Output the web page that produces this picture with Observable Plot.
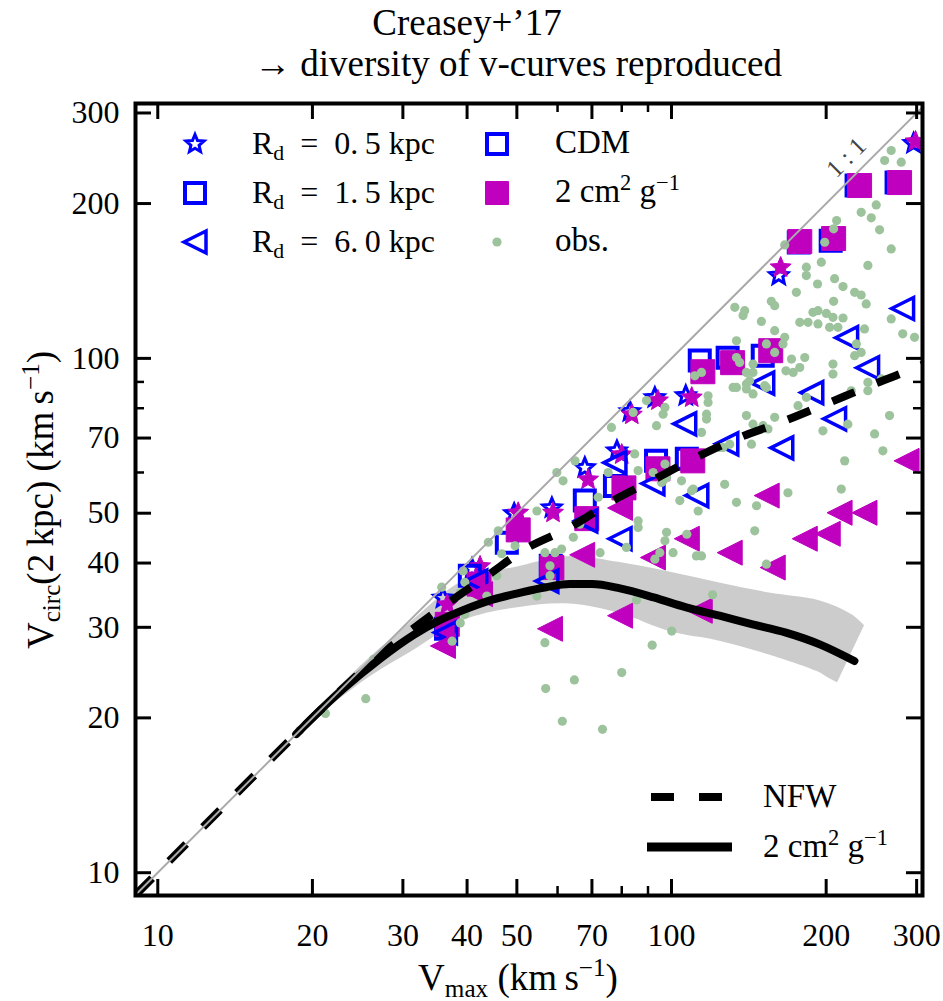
<!DOCTYPE html>
<html>
<head>
<meta charset="utf-8">
<script src="https://cdn.jsdelivr.net/npm/d3@7"></script>
<script src="https://cdn.jsdelivr.net/npm/@observablehq/plot@0.6"></script>
<style>
  body { margin: 0; background: #fff; }
  #fig { position: relative; width: 943px; height: 1001px; font-family: "Liberation Serif", serif; color: #000; overflow: hidden; }
  #chart { position: absolute; left: 0; top: 85px; }
  .lbl { position: absolute; white-space: nowrap; }
  .lbl sub, .lbl sup { line-height: 0; font-size: 68%; }
  .lbl sub { vertical-align: -0.28em; }
  .lbl sup { vertical-align: 0.55em; }
  .sym { position: absolute; overflow: visible; }
</style>
</head>
<body>
<div id="fig"><div id="chart"></div></div>
<script>
// ---------- data (km/s) ----------
// compact disc, R_d = 0.5 kpc
const starCdmVmax  = [35.9, 40.9, 49.4, 58.5, 67.8, 78.3, 83.0, 92.8, 106.6, 161.7, 295.9];
const starCdmVcirc = [34.2, 39.0, 49.9, 51.2, 61.3, 66.1, 78.8, 83.9, 84.6, 144.9, 261.7];
const starSidmVmax  = [36.6, 42.4, 50.3, 58.8, 68.8, 80.0, 83.7, 94.1, 109.5, 163.1, 298.5];
const starSidmVcirc = [33.2, 39.4, 50.1, 50.1, 58.1, 65.0, 77.7, 82.8, 83.9, 150.2, 264.0];
// R_d = 1.5 kpc
const squareCdmVmax  = [36.4, 40.5, 47.8, 58.2, 67.8, 77.6, 93.3, 107.1, 113.5, 128.6, 150.5, 176.9, 204.1, 229.2, 274.2];
const squareCdmVcirc = [29.8, 37.8, 43.8, 39.5, 52.9, 56.5, 63.2, 63.8, 99.0, 100.3, 101.2, 167.9, 169.4, 216.8, 219.7];
const squareSidmVmax  = [36.6, 42.2, 50.3, 58.5, 68.4, 80.8, 94.1, 110.0, 115.1, 131.5, 156.0, 177.7, 206.8, 232.3, 277.9];
const squareSidmVcirc = [30.4, 36.4, 46.4, 39.2, 48.8, 56.0, 61.0, 63.2, 94.2, 98.1, 103.5, 168.7, 171.0, 216.8, 219.7];
// extended disc, R_d = 6.0 kpc
const triCdmVmax  = [36.3, 41.6, 57.2, 68.1, 77.6, 79.4, 92.0, 106.1, 112.0, 128.1, 150.5, 163.9, 187.5, 207.7, 219.2, 240.8, 281.7];
const triCdmVcirc = [29.3, 36.9, 36.9, 48.3, 62.7, 44.6, 57.1, 74.6, 54.1, 68.2, 89.5, 67.0, 85.8, 76.3, 109.7, 95.9, 125.0];
const triSidmVmax  = [35.9, 42.4, 58.0, 67.0, 79.4, 79.4, 92.0, 107.1, 113.5, 129.8, 153.2, 157.4, 181.7, 201.4, 212.4, 237.5, 286.8];
const triSidmVcirc = [27.6, 34.8, 29.8, 41.5, 51.2, 31.6, 41.0, 44.6, 32.3, 41.9, 54.1, 39.2, 44.6, 45.6, 50.1, 50.1, 63.2];

// observed galaxies
const obsVmax = [
  267.7, 259.9, 280.0, 250.3, 234.0, 244.8, 254.1, 209.6, 206.8, 267.7, 195.7, 198.7, 183.0, 183.0, 241.1,
  192.4, 207.7, 215.7, 175.0, 227.2, 234.0, 239.3, 206.8, 156.4, 158.8, 132.8, 138.8, 137.8, 149.6, 188.5,
  192.8, 200.2, 206.2, 215.7, 177.7, 184.4, 192.8, 203.1, 210.8, 237.5, 267.7, 281.9, 297.2, 158.8, 166.1,
  164.8, 133.8, 153.0, 166.1, 229.0, 227.2, 234.0, 256.1, 241.1, 241.1, 223.8, 183.0, 176.3, 197.1, 220.4,
  248.5, 265.7, 257.9, 217.3, 214.0, 168.5, 145.2, 153.0, 146.4, 133.8, 126.9, 112.7, 109.4, 104.6, 103.8,
  97.1, 96.3, 97.8, 97.1, 94.9, 92.8, 100.7, 114.4, 111.8, 107.1, 86.1, 86.1, 81.7, 72.6, 64.4,
  61.1, 59.3, 56.7, 58.0, 58.0, 66.3, 72.0, 75.3, 61.5, 59.8, 54.7, 64.9, 76.4, 93.5, 89.4,
  97.1, 96.3, 84.2, 117.8, 117.8, 117.0, 114.4, 117.0, 131.8, 139.9, 144.1, 141.9, 153.0, 150.7, 144.1,
  154.1, 158.8, 139.9, 143.1, 126.0, 129.8, 84.8, 92.1, 95.6, 110.2, 133.8, 114.4, 111.0, 139.9, 144.1,
  139.9, 133.8, 151.8, 158.8, 135.7, 144.1, 171.2, 181.7, 177.7, 167.0, 206.2, 206.2, 124.1, 97.8, 86.1,
  54.7, 46.0, 44.0, 49.6, 46.7, 39.3, 45.7, 39.6, 38.8, 35.7, 43.7, 39.6, 38.8, 37.4, 56.7,
  25.4, 26.3, 18.9, 21.2, 85.5, 120.2, 100.1, 91.7, 80.0, 64.7, 56.9, 61.3, 73.4, 172.5
];
const obsVcirc = [
  253.6, 242.5, 240.7, 198.8, 192.3, 187.6, 177.8, 185.3, 178.6, 163.2, 153.8, 168.2, 150.4, 144.9, 151.6,
  139.5, 142.9, 137.9, 134.4, 134.4, 132.8, 127.6, 129.1, 129.1, 126.6, 125.7, 123.8, 121.1, 118.0, 122.9,
  123.8, 122.3, 120.2, 119.8, 117.5, 117.5, 116.7, 114.9, 114.9, 114.1, 119.3, 111.6, 109.9, 113.2, 109.9,
  106.7, 108.2, 106.7, 166.2, 106.7, 101.2, 102.7, 91.2, 89.8, 86.5, 86.5, 84.0, 80.9, 72.3, 74.5,
  71.3, 77.4, 66.1, 63.2, 55.7, 54.8, 46.2, 39.8, 51.7, 52.5, 56.9, 50.5, 55.3, 57.8, 52.9,
  62.3, 57.8, 45.9, 44.2, 41.9, 40.7, 41.9, 41.3, 41.3, 45.5, 48.3, 46.9, 42.9, 41.9, 44.9,
  42.6, 41.9, 41.9, 39.5, 37.8, 47.6, 53.7, 60.0, 57.8, 60.0, 50.5, 63.2, 73.4, 74.0, 82.8,
  80.3, 77.9, 78.5, 84.6, 82.1, 77.9, 71.8, 76.2, 87.8, 87.2, 85.3, 90.5, 87.8, 74.0, 74.5,
  72.9, 76.8, 77.4, 68.1, 67.1, 68.1, 65.2, 60.0, 57.4, 55.7, 100.4, 93.9, 92.5, 93.9, 97.5,
  89.2, 87.8, 88.5, 102.7, 98.2, 93.9, 99.7, 100.4, 96.0, 94.6, 97.5, 93.2, 67.1, 58.7, 60.5,
  34.5, 46.2, 43.9, 43.2, 41.7, 38.6, 37.8, 36.7, 35.0, 35.9, 34.5, 31.8, 30.6, 28.2, 28.0,
  21.8, 26.0, 18.9, 20.4, 33.9, 34.7, 29.5, 27.7, 24.5, 23.7, 22.8, 19.7, 19.0, 93.9
];

// NFW expectation
const nfwVmax  = [9.05, 20, 25, 31, 36.5, 43.8, 52.6, 63.4, 77, 91.4, 111.8, 135.8, 166.1, 203.2, 248.5, 300, 310];
const nfwVcirc = [9.05, 20, 24.7, 29.5, 33.3, 37.8, 42.9, 46.9, 52.9, 57.8, 64.2, 70.2, 75.6, 82.1, 89.2, 96.0, 97.5];

// SIDM 2 cm^2/g median and its scatter band
const sidmVmax  = [18.6, 20, 23, 27, 31.5, 35, 39.3, 45, 50.6, 57, 63.4, 70, 79.4, 92.3, 106.8, 124, 143.8, 167, 194.3, 227];
const sidmVcirc = [18.6, 20, 22.8, 26.0, 29.0, 30.8, 32.4, 34.0, 35.0, 35.9, 36.4, 36.4, 35.7, 34.3, 32.8, 31.6, 30.4, 29.3, 27.8, 25.8];
const bandLowVmax   = [18.8, 22, 26, 31, 39.3, 50.6, 63.4, 79.4, 99.5, 124, 155, 194, 202, 210.5];
const bandLowVcirc  = [18.7, 21.3, 24.1, 26.8, 30.9, 32.8, 33.3, 31.9, 29.4, 28.2, 26.5, 24.5, 23.9, 23.4];
const bandHighVmax  = [18.8, 22, 26, 31, 39.3, 50.6, 63.4, 79.4, 99.5, 124, 155, 194, 225, 237.5];
const bandHighVcirc = [18.9, 22.4, 26.3, 30.6, 36.9, 39.4, 41.2, 40.1, 38.4, 36.6, 35.0, 33.8, 31.7, 30.2];

const majorTicks = [10, 20, 30, 40, 50, 70, 100, 200, 300];
const minorTicks = [60, 80, 90];
const identityLine = [9, 320];
const oneToOneLabel = [{at: 232, text: "1 : 1"}];

// ---------- layout ----------
const W = 943, H = 916, mT = 18, mR = 21, mB = 106, mL = 135;
const plotW = W - mL - mR, plotH = H - mT - mB;
const blue = "#0000ff", magenta = "#bf00bf", obsColor = "#9dc39d", bandColor = "#cccccc";
const serif = "Liberation Serif, serif";

const rows = (xs, ys) => xs.map((v, i) => ({vmax: v, vcirc: ys[i]}));
const bandRows = bandLowVmax.map((v, i) => ({
  x1: v, y1: bandLowVcirc[i], x2: bandHighVmax[i], y2: bandHighVcirc[i]
}));

// marker shapes (size = pi r^2, as Plot passes it)
const radius = size => Math.sqrt(size / Math.PI);
const starSymbol = {draw(ctx, size) {
  const r = radius(size);
  for (let i = 0; i < 10; i++) {
    const a = -Math.PI / 2 + i * Math.PI / 5, rr = i % 2 ? r * 0.45 : r;
    const px = rr * Math.cos(a), py = rr * Math.sin(a);
    if (i) ctx.lineTo(px, py); else ctx.moveTo(px, py);
  }
  ctx.closePath();
}};
const squareSymbol = {draw(ctx, size) {
  const r = radius(size);
  ctx.moveTo(-r, -r); ctx.lineTo(r, -r); ctx.lineTo(r, r); ctx.lineTo(-r, r); ctx.closePath();
}};
const leftTriangleSymbol = {draw(ctx, size) {
  const r = radius(size);
  ctx.moveTo(-r, 0); ctx.lineTo(r, -r); ctx.lineTo(r, r); ctx.closePath();
}};

const xy = {x: "vmax", y: "vcirc", clip: true};

const chart = Plot.plot({
  width: W, height: H,
  marginTop: mT, marginRight: mR, marginBottom: mB, marginLeft: mL,
  style: {fontFamily: serif, fontSize: "32px", background: "transparent", overflow: "visible"},
  x: {type: "log", domain: [9.05, 308]},
  y: {type: "log", domain: [9.03, 313]},
  marks: [
    Plot.area(bandRows, {x1: "x1", y1: "y1", x2: "x2", y2: "y2", fill: bandColor, curve: "catmull-rom", clip: true}),

    Plot.dot(rows(starCdmVmax, starCdmVcirc), {...xy, symbol: starSymbol, r: 9.5, fill: "none", stroke: blue, strokeWidth: 3, strokeLinejoin: "miter"}),
    Plot.dot(rows(starSidmVmax, starSidmVcirc), {...xy, symbol: starSymbol, r: 11, fill: magenta, stroke: magenta, strokeWidth: 1}),
    Plot.dot(rows(squareCdmVmax, squareCdmVcirc), {...xy, symbol: squareSymbol, r: 10, fill: "none", stroke: blue, strokeWidth: 4, strokeLinejoin: "miter"}),
    Plot.dot(rows(squareSidmVmax, squareSidmVcirc), {...xy, symbol: squareSymbol, r: 12, fill: magenta, stroke: magenta, strokeWidth: 1}),
    Plot.dot(rows(triCdmVmax, triCdmVcirc), {...xy, symbol: leftTriangleSymbol, r: 11, fill: "none", stroke: blue, strokeWidth: 3.5, strokeLinejoin: "miter"}),
    Plot.dot(rows(triSidmVmax, triSidmVcirc), {...xy, symbol: leftTriangleSymbol, r: 12.5, fill: magenta, stroke: magenta, strokeWidth: 1}),

    Plot.dot(rows(obsVmax, obsVcirc), {...xy, r: 4.6, fill: obsColor}),

    Plot.line(rows(nfwVmax, nfwVcirc), {...xy, stroke: "black", strokeWidth: 8, strokeDasharray: "24,24", strokeLinecap: "butt", curve: "catmull-rom"}),
    Plot.line(rows(sidmVmax, sidmVcirc), {...xy, stroke: "black", strokeWidth: 8, curve: "monotone-x"}),

    Plot.line(identityLine, {x: d => d, y: d => d, stroke: "#aaaaaa", strokeWidth: 2, clip: true}),
    Plot.text(oneToOneLabel, {x: "at", y: "at", text: "text", rotate: -45, dx: -13, dy: -13, fill: "#444", fontSize: 25, fontFamily: serif}),

    Plot.frame({stroke: "black", strokeWidth: 4}),

    // inward ticks on all four sides
    Plot.tickX(majorTicks, {x: d => d, stroke: "black", strokeWidth: 3, insetTop: plotH - 16}),
    Plot.tickX(majorTicks, {x: d => d, stroke: "black", strokeWidth: 3, insetBottom: plotH - 16}),
    Plot.tickX(minorTicks, {x: d => d, stroke: "black", strokeWidth: 2.5, insetTop: plotH - 9}),
    Plot.tickX(minorTicks, {x: d => d, stroke: "black", strokeWidth: 2.5, insetBottom: plotH - 9}),
    Plot.tickY(majorTicks, {y: d => d, stroke: "black", strokeWidth: 3, insetRight: plotW - 16}),
    Plot.tickY(majorTicks, {y: d => d, stroke: "black", strokeWidth: 3, insetLeft: plotW - 16}),
    Plot.tickY(minorTicks, {y: d => d, stroke: "black", strokeWidth: 2.5, insetRight: plotW - 9}),
    Plot.tickY(minorTicks, {y: d => d, stroke: "black", strokeWidth: 2.5, insetLeft: plotW - 9}),

    Plot.axisX({ticks: majorTicks, tickFormat: d => String(d), tickSize: 0, tickPadding: 28, label: null, fontSize: 32}),
    Plot.axisY({ticks: majorTicks, tickFormat: d => String(d), tickSize: 0, tickPadding: 16, label: null, fontSize: 32})
  ]
});
document.getElementById("chart").appendChild(chart);

// ---------- titles, axis labels and legends ----------
const fig = document.getElementById("fig");
function label(html, x, baseline, size, anchor = "start") {
  const d = document.createElement("div");
  d.className = "lbl";
  d.innerHTML = html;
  d.style.fontSize = size + "px";
  d.style.lineHeight = size + "px";
  d.style.left = x + "px";
  d.style.top = (baseline - 0.8375 * size) + "px";
  if (anchor === "middle") d.style.transform = "translateX(-50%)";
  if (anchor === "end") d.style.transform = "translateX(-100%)";
  fig.appendChild(d);
  return d;
}
function symbol(svgInner, cx, cy) {
  const ns = "http://www.w3.org/2000/svg";
  const s = document.createElementNS(ns, "svg");
  s.setAttribute("class", "sym");
  s.setAttribute("width", 40); s.setAttribute("height", 40);
  s.setAttribute("viewBox", "-20 -20 40 40");
  s.style.left = (cx - 20) + "px"; s.style.top = (cy - 20) + "px";
  s.innerHTML = svgInner;
  fig.appendChild(s);
}
const pathOf = (sym, r) => { const p = d3.path(); sym.draw(p, Math.PI * r * r); return p.toString(); };

label("Creasey+’17", 467, 35, 37, "middle");
label("→ diversity of v-curves reproduced", 518, 76, 37, "middle");

label("V<sub>max</sub> (km&#8201;s<sup>−1</sup>)", 518, 990, 37, "middle");
const yl = label("V<sub>circ</sub>(2&#8201;kpc) (km&#8201;s<sup>−1</sup>)", 0, 0, 37);
yl.style.top = "500px"; yl.style.left = "40px";
yl.style.transform = "translate(-50%, -50%) rotate(-90deg)";
yl.style.lineHeight = "normal";

// upper-left legend
const legRows = [144, 193, 242];
const eq = "&ensp;=&ensp;";
symbol(`<path d="${pathOf(starSymbol, 9.5)}" fill="none" stroke="${blue}" stroke-width="3"/>`, 195, legRows[0]);
symbol(`<path d="${pathOf(squareSymbol, 10)}" fill="none" stroke="${blue}" stroke-width="4"/>`, 195, legRows[1]);
symbol(`<path d="${pathOf(leftTriangleSymbol, 11)}" fill="none" stroke="${blue}" stroke-width="3.5"/>`, 195, legRows[2]);
label(`R<sub>d</sub>${eq}0.&#8201;5 kpc`, 252, legRows[0] + 10, 32);
label(`R<sub>d</sub>${eq}1.&#8201;5 kpc`, 252, legRows[1] + 10, 32);
label(`R<sub>d</sub>${eq}6.&#8201;0 kpc`, 252, legRows[2] + 10, 32);

symbol(`<path d="${pathOf(squareSymbol, 10)}" fill="none" stroke="${blue}" stroke-width="4"/>`, 497, legRows[0]);
symbol(`<path d="${pathOf(squareSymbol, 11.5)}" fill="${magenta}" stroke="${magenta}" stroke-width="1"/>`, 497, legRows[1]);
symbol(`<circle r="4.6" fill="${obsColor}"/>`, 497, legRows[2]);
label("CDM", 555, legRows[0] + 10, 33);
label("2 cm<sup>2</sup> g<sup>−1</sup>", 555, legRows[1] + 10, 33);
label("obs.", 555, legRows[2] + 10, 33);

// lower-right legend
const ns = "http://www.w3.org/2000/svg";
const lg = document.createElementNS(ns, "svg");
lg.setAttribute("class", "sym");
lg.setAttribute("width", 943); lg.setAttribute("height", 1001);
lg.style.left = "0px"; lg.style.top = "0px";
lg.innerHTML = `<line x1="651" x2="723" y1="797" y2="797" stroke="black" stroke-width="8" stroke-dasharray="23,25"/>
<line x1="647" x2="732" y1="847" y2="847" stroke="black" stroke-width="9"/>`;
fig.appendChild(lg);
label("NFW", 763, 808, 33);
label("2 cm<sup>2</sup> g<sup>−1</sup>", 763, 858, 33);
</script>
</body>
</html>
